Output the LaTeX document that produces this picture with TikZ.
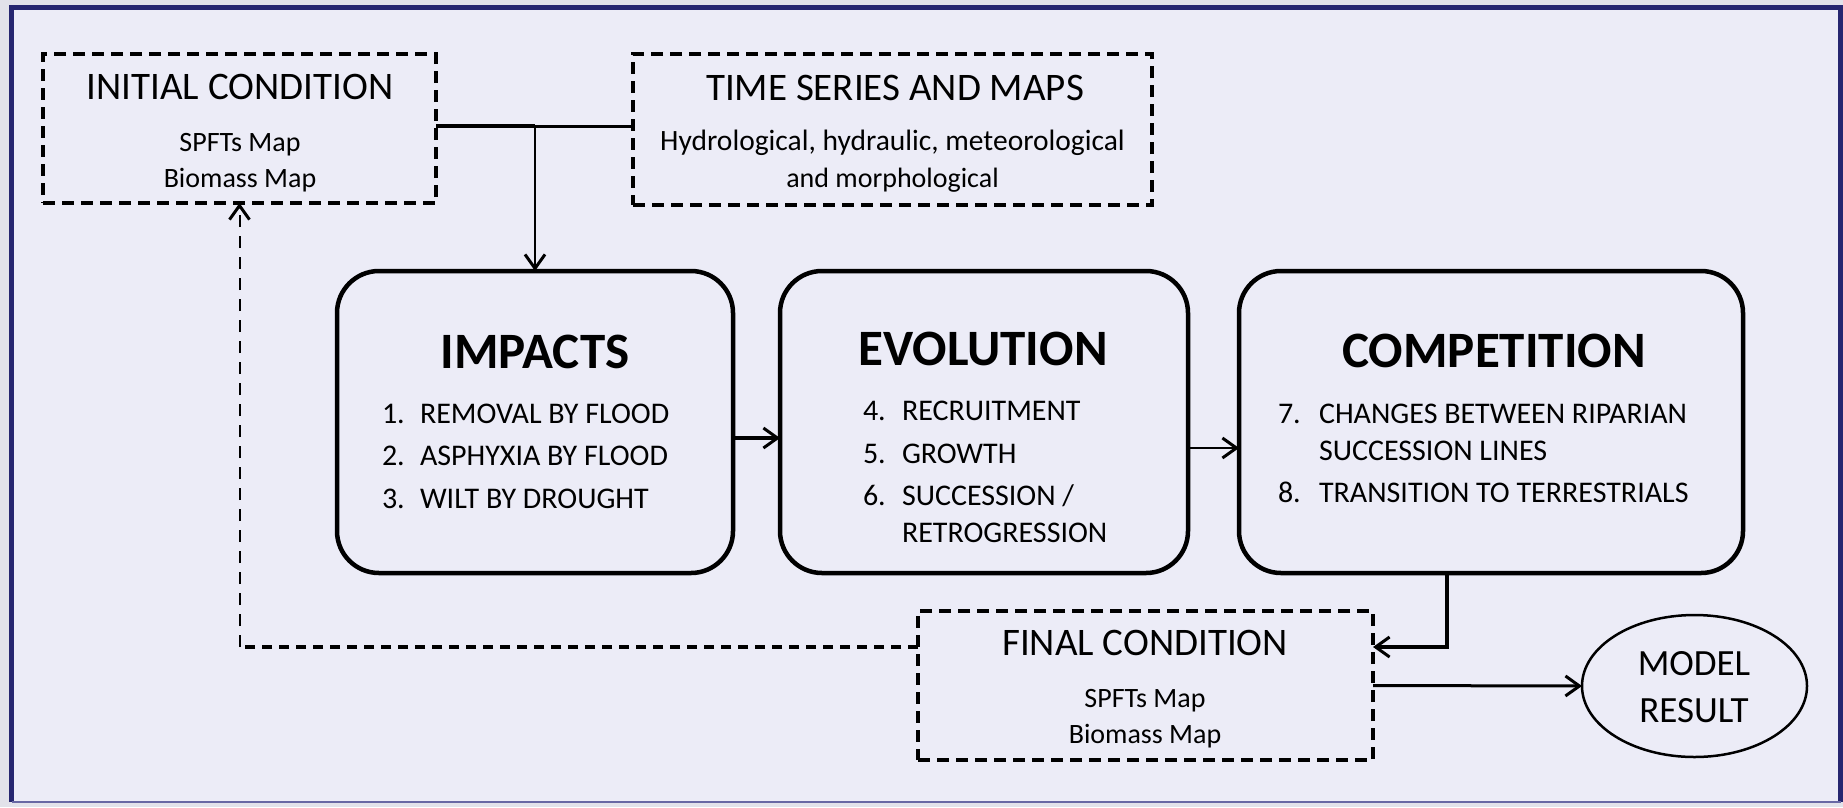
\documentclass[tikz,border=0pt]{standalone}
\usepackage{fontspec}
\setmainfont{Carlito}
\usetikzlibrary{arrows.meta,shapes.geometric}
\definecolor{bgpaper}{RGB}{236,236,247}
\definecolor{frameblue}{RGB}{38,38,112}
\definecolor{edgegray}{RGB}{226,226,234}
\definecolor{bottomblue}{RGB}{104,104,164}

\begin{document}
\begin{tikzpicture}[x=1pt,y=-1pt,
  every node/.style={inner sep=0pt, outer sep=0pt},
  databox/.style={draw, line width=3.5pt, dash pattern=on 12pt off 7pt, rectangle},
  stagebox/.style={draw, line width=4.5pt, rounded corners=42pt, rectangle},
  resultshape/.style={draw, ellipse, line width=2.5pt},
  headA/.style={font=\fontsize{39}{39}\selectfont, anchor=base},
  subA/.style={font=\fontsize{28}{28}\selectfont, anchor=base},
  stagetitle/.style={font=\fontsize{51}{51}\selectfont\bfseries, anchor=base},
  itemline/.style={font=\fontsize{30}{30}\selectfont, anchor=base west},
  resulttext/.style={font=\fontsize{37}{37}\selectfont, anchor=base},
  flow/.style={-{Straight Barb[length=14pt,width=20pt,line width=3pt]}},
]
\useasboundingbox (0,0) rectangle (1843,807);

% page and frame
\fill[edgegray] (0,0) rectangle (1843,807);
\fill[bgpaper] (11.5,7.5) rectangle (1840.5,802);
\draw[frameblue, line width=5pt] (11.5,802) -- (11.5,7.5) -- (1840.5,7.5) -- (1840.5,802);
\draw[bottomblue, line width=2.5pt] (11.5,802) -- (1840.5,802);

% input boxes
\node[databox, minimum width=393pt, minimum height=149pt] (init) at (239.5,128.5) {};
\node[headA] (initT) at (240,99) {INITIAL CONDITION};
\node[subA] (initS1) at (240,151) {SPFTs Map};
\node[subA] (initS2) at (240,187) {Biomass Map};

\node[databox, minimum width=519pt, minimum height=151pt] (series) at (892.5,129.5) {};
\node[headA] (seriesT) at (895,100) {TIME SERIES AND MAPS};
\node[subA, font=\fontsize{29.5}{29.5}\selectfont] (seriesS1) at (892.5,150) {Hydrological, hydraulic, meteorological};
\node[subA] (seriesS2) at (892.5,187) {and morphological};

% process stages
\node[stagebox, minimum width=396pt, minimum height=302pt] (impacts) at (535,422) {};
\node[stagetitle] (impactsT) at (535,368) {IMPACTS};
\node[itemline] (i1n) at (382,423) {1.};
\node[itemline] (i1t) at (420,423) {REMOVAL BY FLOOD};
\node[itemline] (i2n) at (382,465) {2.};
\node[itemline] (i2t) at (420,465) {ASPHYXIA BY FLOOD};
\node[itemline] (i3n) at (382,508) {3.};
\node[itemline] (i3t) at (420,508) {WILT BY DROUGHT};

\node[stagebox, minimum width=408pt, minimum height=302pt] (evolution) at (984,422) {};
\node[stagetitle] (evolutionT) at (983,365) {EVOLUTION};
\node[itemline] (e4n) at (863,420) {4.};
\node[itemline] (e4t) at (902,420) {RECRUITMENT};
\node[itemline] (e5n) at (863,463) {5.};
\node[itemline] (e5t) at (902,463) {GROWTH};
\node[itemline] (e6n) at (863,505) {6.};
\node[itemline] (e6t) at (902,505) {SUCCESSION /};
\node[itemline] (e6c) at (902,542) {RETROGRESSION};

\node[stagebox, minimum width=504pt, minimum height=302pt] (competition) at (1491,422) {};
\node[stagetitle] (competitionT) at (1494,367) {COMPETITION};
\node[itemline] (c7n) at (1278,423) {7.};
\node[itemline] (c7t) at (1319,423) {CHANGES BETWEEN RIPARIAN};
\node[itemline] (c7c) at (1319,460) {SUCCESSION LINES};
\node[itemline] (c8n) at (1278,502) {8.};
\node[itemline] (c8t) at (1319,502) {TRANSITION TO TERRESTRIALS};

% output boxes
\node[databox, minimum width=455pt, minimum height=149pt] (final) at (1145.5,685.5) {};
\node[headA] (finalT) at (1145,655) {FINAL CONDITION};
\node[subA] (finalS1) at (1145,707) {SPFTs Map};
\node[subA] (finalS2) at (1145,743) {Biomass Map};

\node[resultshape, minimum width=225pt, minimum height=142pt] (result) at (1694.5,686) {};
\node[resulttext] (resultT1) at (1694,675) {MODEL};
\node[resulttext] (resultT2) at (1694,722) {RESULT};

% connectors
\coordinate (split) at (535,126);
\draw[line width=4pt] (init.east |- split) -- (split);
\draw[line width=3pt] (split) -- (series.west |- split);
\draw[line width=2pt, flow] (split) -- (impacts.north);

\draw[line width=4pt, flow] ([yshift=-16pt]impacts.east) -- ([yshift=-16pt]evolution.west);
\draw[line width=2pt, flow] ([yshift=-26pt]evolution.east) -- ([yshift=-26pt]competition.west);
\draw[line width=4pt, flow] ([xshift=-44pt]competition.south) |- ([yshift=38.5pt]final.east);
\draw[line width=3pt, flow] (final.east) -- (result.west);

% feedback of the final state to the initial state
\coordinate (bend) at (239.5,647);
\draw[line width=3.5pt, dash pattern=on 10pt off 7pt] ([yshift=38.5pt]final.west) -- (bend);
\draw[line width=2pt, dash pattern=on 12pt off 9pt, flow] (bend) -- (init.south);
\end{tikzpicture}
\end{document}
